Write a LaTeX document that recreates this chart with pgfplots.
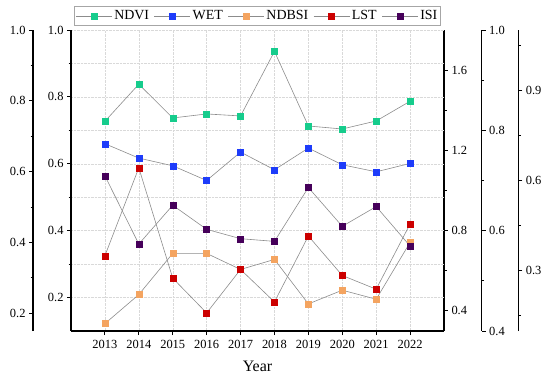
\documentclass[border=0pt]{standalone}
\usepackage{pgfplots}
\pgfplotsset{compat=1.18}
\usepackage{fontspec}
\setmainfont{Liberation Serif}
\definecolor{cNDVI}{RGB}{22,204,140}
\definecolor{cWET}{RGB}{30,60,250}
\definecolor{cNDBSI}{RGB}{244,164,96}
\definecolor{cLST}{RGB}{204,0,0}
\definecolor{cISI}{RGB}{70,0,90}
\definecolor{cLine}{RGB}{140,140,140}
\begin{document}
\begin{tikzpicture}
\path[use as bounding box] (-71bp,-47bp) rectangle (479bp,331bp);
\pgfplotsset{
  every axis/.append style={scale only axis, width=373bp, height=301bp,
    xmin=2012, xmax=2023,
    axis line style={line width=1.1bp},
    major tick length=4bp, minor tick length=2.5bp,
    every tick/.style={black, line width=1bp},
    every minor tick/.style={black, line width=0.9bp},
    tick align=outside,
    tick label style={font=\fontsize{12.5}{14}\selectfont},
    /pgf/number format/assume math mode=true,
    yticklabel style={/pgf/number format/.cd, fixed, fixed zerofill, precision=1},
  },
  sline/.style={color=cLine, line width=0.6bp, mark=square*, mark size=3bp,
    mark options={fill=#1, draw=#1, solid, line width=0.3bp}},
}
% far left axis
\begin{axis}[at={(-38bp,0)}, anchor=south west, hide x axis, axis y line*=left,
  ymin=0.15, ymax=1.0, ytick={0.2,0.4,0.6,0.8,1.0}, minor ytick={0.3,0.5,0.7,0.9}]
\end{axis}
% right axis 1
\begin{axis}[at={(373bp,0)}, anchor=south east, hide x axis, axis y line*=right,
  ymin=0.3, ymax=1.8, ytick={0.4,0.8,1.2,1.6}, minor ytick={0.6,1.0,1.4}]
\end{axis}
% right axis 2
\begin{axis}[at={(410.7bp,0)}, anchor=south east, hide x axis, axis y line*=right,
  ymin=0.4, ymax=1.0, ytick={0.4,0.6,0.8,1.0}, minor ytick={0.5,0.7,0.9}]
\end{axis}
% right axis 3
\begin{axis}[at={(447.3bp,0)}, anchor=south east, hide x axis, axis y line*=right,
  ymin=0.1, ymax=1.1, ytick={0.3,0.6,0.9}, minor ytick={0.15,0.45,0.75,1.05}]
\end{axis}
% main axis
\begin{axis}[at={(0,0)}, anchor=south west,
  axis x line*=bottom, axis y line*=left,
  ymin=0.1, ymax=1.0,
  ytick={0.2,0.4,0.6,0.8,1.0}, minor ytick={0.3,0.5,0.7,0.9},
  xtick={2013,2014,2015,2016,2017,2018,2019,2020,2021,2022},
  xticklabel style={/pgf/number format/1000 sep={}, yshift=-2bp},
  grid=both,
  major grid style={densely dotted, gray!30, line width=0.4bp},
  minor grid style={densely dotted, gray!30, line width=0.4bp},
  xlabel={Year}, xlabel style={font=\fontsize{16}{18}\selectfont, yshift=-5bp},
  legend columns=5,
  legend style={at={(0.5,1)}, anchor=south, yshift=4bp, draw=gray!70, line width=0.6bp,
    font=\fontsize{14}{16}\selectfont, inner xsep=1bp, inner ysep=2.5bp,
    /tikz/every odd column/.append style={column sep=0bp},
    /tikz/every even column/.append style={column sep=3bp}},
  legend image code/.code={\draw[mark repeat=2,mark phase=2,#1] plot coordinates {(0bp,0bp) (18bp,0bp) (36bp,0bp)};},
]
\addplot[sline=cNDVI] coordinates {(2013,0.727) (2014,0.838) (2015,0.737) (2016,0.749) (2017,0.743) (2018,0.936) (2019,0.713) (2020,0.704) (2021,0.728) (2022,0.787)};
\addplot[sline=cWET] coordinates {(2013,0.660) (2014,0.617) (2015,0.594) (2016,0.550) (2017,0.635) (2018,0.582) (2019,0.647) (2020,0.597) (2021,0.576) (2022,0.601)};
\addplot[sline=cNDBSI] coordinates {(2013,0.122) (2014,0.209) (2015,0.332) (2016,0.332) (2017,0.284) (2018,0.314) (2019,0.181) (2020,0.222) (2021,0.195) (2022,0.365)};
\addplot[sline=cLST] coordinates {(2013,0.325) (2014,0.588) (2015,0.258) (2016,0.154) (2017,0.284) (2018,0.187) (2019,0.384) (2020,0.266) (2021,0.225) (2022,0.420)};
\addplot[sline=cISI] coordinates {(2013,0.564) (2014,0.360) (2015,0.476) (2016,0.404) (2017,0.376) (2018,0.368) (2019,0.529) (2020,0.413) (2021,0.472) (2022,0.354)};
\legend{NDVI,WET,NDBSI,LST,ISI}
\end{axis}
\end{tikzpicture}
\end{document}
